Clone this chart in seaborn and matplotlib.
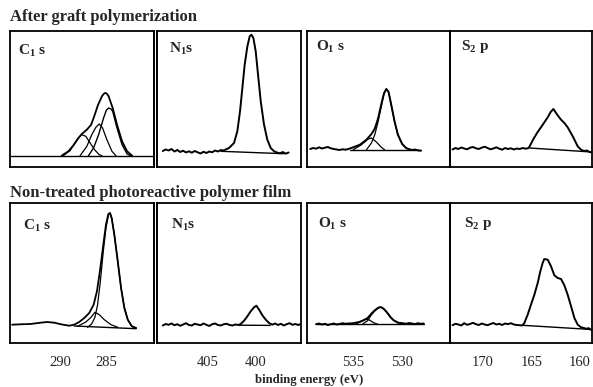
import matplotlib
matplotlib.use("Agg")
import matplotlib.pyplot as plt
import seaborn as sns
import pandas as pd

sns.set_style("white")
plt.rcParams["font.family"] = ["Liberation Serif", "DejaVu Serif"]
plt.rcParams["mathtext.fontset"] = "custom"
plt.rcParams["mathtext.rm"] = "Liberation Serif:bold"
plt.rcParams["mathtext.it"] = "Liberation Serif:bold"
plt.rcParams["mathtext.bf"] = "Liberation Serif:bold"
plt.rcParams["mathtext.default"] = "rm"

# ---------------- data (binding energy in eV, intensity in arbitrary units) -------------
row_titles = ["After graft polymerization", "Non-treated photoreactive polymer film"]
panel_labels = [r"C$_1$ s", r"N$_1$s", r"O$_1$ s", r"S$_2$ p"]
x_label = "binding energy (eV)"
tick_values = [[290, 285], [405, 400], [535, 530], [170, 165, 160]]

# ---- top row: after graft polymerization ----
c1_top_env_x = [289.82, 289.09, 288.54, 288.07, 287.63, 287.08, 286.61, 286.24, 285.88, 285.44, 285.2,
                285.07, 284.9, 284.71, 284.27, 283.8, 283.25, 282.7, 282.15]
c1_top_env_y = [11.8, 16.2, 22.2, 28.5, 33.5, 37.8, 42.8, 52.2, 62.2, 71.2, 74.0,
                74.5, 73.8, 71.2, 59.5, 42.8, 26.2, 16.2, 11.8]
c1_top_a_x = [289.64, 288.91, 288.36, 287.92, 287.63, 287.19, 286.72, 286.24, 285.73, 285.44]
c1_top_a_y = [11.8, 16.8, 24.5, 30.5, 32.8, 31.2, 24.5, 17.8, 12.8, 11.8]
c1_top_b_x = [287.81, 287.08, 286.54, 286.1, 285.73, 285.37, 284.9, 284.35, 283.91]
c1_top_b_y = [11.8, 21.2, 32.8, 40.2, 43.5, 39.5, 27.8, 16.2, 11.8]
c1_top_c_x = [286.9, 286.35, 285.8, 285.26, 284.95, 284.71, 284.45, 284.27, 283.8, 283.25, 282.7, 282.33]
c1_top_c_y = [11.8, 19.5, 32.8, 49.5, 57.5, 59.5, 58.5, 56.2, 39.5, 22.8, 13.5, 11.8]
c1_top_bg_x = [295.3, 279.8]
c1_top_bg_y = [11.8, 11.8]

n1_top_x = [409.6, 409.3, 409.0, 408.7, 408.4, 408.1, 407.8, 407.5, 407.2, 406.9, 406.6, 406.3,
            406.0, 405.7, 405.4, 405.1, 404.8, 404.5, 404.2, 403.9, 403.6, 403.3, 403.0, 402.76,
            402.24, 401.9, 401.62, 401.38, 401.14, 400.86, 400.62, 400.45, 400.24, 400.0, 399.76,
            399.48, 399.14, 398.8, 398.45, 398.1, 397.8, 397.5, 397.2, 396.9, 396.6]
n1_top_y = [16.5, 18.0, 17.0, 18.5, 16.0, 17.5, 15.5, 16.8, 15.0, 16.2, 14.8, 16.5,
            15.2, 14.0, 15.8, 14.5, 16.0, 15.2, 17.0, 16.0, 17.5, 17.0, 18.5, 19.5,
            24.5, 36.2, 56.2, 79.5, 102.8, 121.2, 131.2, 132.8, 129.5, 116.2, 92.8,
            66.2, 42.8, 27.8, 19.5, 16.2, 15.0, 14.2, 15.5, 13.8, 15.0]
n1_top_bg_x = [403.6, 397.1]
n1_top_bg_y = [16.2, 13.8]

o1_top_x = [539.4, 539.1, 538.8, 538.5, 538.2, 537.9, 537.6, 537.3, 537.0, 536.7, 536.4, 536.1,
            535.8, 535.5, 535.0, 534.32, 533.65, 533.14, 532.8, 532.47, 532.13, 531.86, 531.62,
            531.39, 531.12, 530.78, 530.44, 530.0, 529.6, 529.3, 529.0, 528.7, 528.4, 528.1]
o1_top_y = [18.5, 19.5, 18.8, 20.2, 19.0, 19.8, 20.5, 19.2, 18.5, 18.0, 17.5, 18.2,
            17.8, 18.5, 20.2, 22.8, 27.8, 33.5, 38.8, 48.8, 63.5, 74.2, 78.5,
            75.5, 62.8, 46.2, 32.8, 23.5, 19.5, 18.2, 17.5, 18.0, 17.2, 16.8]
o1_top_main_x = [533.65, 533.14, 532.8, 532.47, 532.13, 531.86, 531.62, 531.39, 531.12, 530.78,
                 530.44, 530.0, 529.6, 529.1]
o1_top_main_y = [17.8, 24.5, 32.8, 45.5, 61.2, 73.5, 78.5, 75.5, 62.8, 46.2, 32.8, 23.5, 19.5, 17.8]
o1_top_small_x = [535.0, 534.16, 533.48, 533.14, 532.64, 532.13, 531.79]
o1_top_small_y = [17.8, 22.8, 28.5, 29.5, 25.5, 20.2, 17.8]
o1_top_bg_x = [535.3, 528.1]
o1_top_bg_y = [17.8, 17.8]

s2_top_x = [173.1, 172.8, 172.5, 172.2, 171.9, 171.6, 171.3, 171.0, 170.7, 170.4, 170.1, 169.8,
            169.5, 169.2, 168.9, 168.6, 168.3, 168.0, 167.7, 167.4, 167.1, 166.8, 166.5, 166.2,
            165.9, 165.6, 165.35, 165.17, 164.83, 164.42, 163.83, 163.32, 163.02, 162.74, 162.3,
            161.95, 161.61, 161.27, 160.75, 160.24, 159.9, 159.6, 159.3, 159.0, 158.8]
s2_top_y = [18.0, 19.5, 18.5, 20.0, 19.0, 18.2, 19.8, 20.5, 19.2, 18.5, 19.8, 20.8,
            19.5, 18.2, 19.0, 20.2, 18.8, 17.8, 19.5, 18.5, 19.2, 18.0, 19.0, 18.5,
            19.5, 18.8, 19.2, 21.2, 27.8, 34.5, 42.8, 50.2, 55.5, 58.5, 52.2,
            47.8, 44.5, 40.2, 31.2, 21.2, 17.8, 16.5, 17.0, 15.5, 15.0]
s2_top_bg_x = [165.2, 158.8]
s2_top_bg_y = [19.5, 15.5]

# ---- bottom row: non-treated film ----
c1_bot_env_x = [295.2, 294.3, 293.2, 292.1, 291.4, 290.6, 289.9, 289.0, 288.45, 287.91, 287.36,
                286.82, 286.34, 285.98, 285.61, 285.29, 285.0, 284.74, 284.56, 284.38, 284.09,
                283.72, 283.36, 283.0, 282.63, 282.19, 281.72]
c1_bot_env_y = [18.3, 18.7, 19.0, 20.3, 21.0, 20.3, 18.7, 17.3, 18.3, 21.0, 25.0,
                30.0, 38.3, 51.7, 75.0, 98.3, 118.3, 129.0, 130.0, 125.0, 108.3,
                81.7, 55.0, 35.0, 23.3, 16.7, 15.0]
c1_bot_main_x = [287.0, 286.56, 286.2, 285.91, 285.61, 285.29, 285.0, 284.74, 284.56, 284.38,
                 284.09, 283.72, 283.36, 283.0, 282.63, 282.19, 281.72]
c1_bot_main_y = [15.7, 19.0, 25.7, 38.3, 61.7, 91.7, 115.0, 127.7, 130.0, 125.0,
                 108.3, 81.7, 55.0, 35.0, 23.3, 16.7, 15.0]
c1_bot_small_x = [288.09, 287.18, 286.63, 286.2, 285.72, 285.18, 284.45, 283.72]
c1_bot_small_y = [16.7, 21.0, 25.7, 30.7, 28.3, 23.3, 18.3, 15.7]
c1_bot_bg_x = [288.45, 281.72]
c1_bot_bg_y = [17.0, 14.3]

n1_bot_x = [409.6, 409.3, 409.0, 408.7, 408.4, 408.1, 407.8, 407.5, 407.2, 406.9, 406.6, 406.3,
            406.0, 405.7, 405.4, 405.1, 404.8, 404.5, 404.2, 403.9, 403.6, 403.3, 403.0, 402.7,
            402.4, 402.1, 401.8, 401.55, 401.2, 400.86, 400.52, 400.17, 399.93, 399.65, 399.31,
            398.96, 398.62, 398.27, 398.0, 397.7, 397.4, 397.1, 396.8, 396.5, 396.2, 395.9,
            395.6, 395.4]
n1_bot_y = [17.5, 19.0, 18.2, 19.5, 17.8, 18.8, 17.2, 18.5, 19.8, 18.0, 17.5, 19.2,
            18.5, 17.8, 19.5, 18.2, 17.0, 18.8, 19.5, 18.0, 17.5, 18.8, 19.2, 18.0,
            17.5, 18.5, 18.0, 19.0, 22.3, 26.7, 31.7, 35.7, 37.3, 33.3, 27.7,
            23.3, 20.0, 18.3, 19.5, 18.0, 19.2, 17.5, 18.8, 19.8, 18.2, 19.0,
            18.0, 18.8]
n1_bot_bg_x = [401.7, 398.5]
n1_bot_bg_y = [17.8, 17.6]

o1_bot_x = [538.8, 538.5, 538.2, 537.9, 537.6, 537.3, 537.0, 536.7, 536.4, 536.1, 535.8, 535.5,
            535.07, 534.38, 533.87, 533.53, 533.18, 532.84, 532.49, 532.21, 531.9, 531.56,
            531.21, 530.87, 530.42, 529.9, 529.6, 529.3, 529.0, 528.7, 528.4, 528.1, 527.8]
o1_bot_y = [18.8, 19.5, 18.5, 19.2, 18.0, 18.8, 19.5, 18.5, 19.0, 19.8, 19.2, 19.5,
            19.7, 21.0, 23.0, 25.0, 29.0, 32.3, 35.0, 36.0, 34.3, 30.7,
            26.0, 22.7, 20.3, 19.7, 19.2, 20.0, 19.5, 18.8, 19.8, 19.2, 19.5]
o1_bot_main_x = [534.04, 533.53, 533.18, 532.84, 532.49, 532.21, 531.9, 531.56, 531.21, 530.87,
                 530.42, 529.9]
o1_bot_main_y = [19.0, 22.3, 27.7, 31.7, 34.7, 36.0, 34.3, 30.7, 26.0, 22.7, 20.3, 19.5]
o1_bot_small_x = [534.73, 534.21, 533.76, 533.35, 532.93, 532.49]
o1_bot_small_y = [19.0, 21.7, 24.0, 23.0, 20.3, 18.7]
o1_bot_bg_x = [538.8, 527.8]
o1_bot_bg_y = [19.0, 19.0]

s2_bot_x = [173.1, 172.8, 172.5, 172.2, 171.9, 171.6, 171.3, 171.0, 170.7, 170.4, 170.1, 169.8,
            169.5, 169.2, 168.9, 168.6, 168.3, 168.0, 167.7, 167.4, 167.1, 166.8, 166.5, 166.2,
            165.95, 165.72, 165.38, 165.04, 164.69, 164.35, 164.08, 163.84, 163.67, 163.32,
            162.98, 162.64, 162.29, 161.95, 161.61, 161.27, 160.92, 160.58, 160.24, 159.9,
            159.6, 159.38, 159.1, 158.9]
s2_bot_y = [17.8, 19.2, 18.5, 17.5, 19.8, 18.2, 19.0, 20.2, 18.8, 18.0, 19.5, 18.5,
            17.8, 19.0, 20.0, 18.5, 19.2, 18.0, 19.5, 18.8, 19.8, 18.5, 18.0, 17.8,
            17.5, 20.0, 28.3, 38.3, 48.3, 60.0, 71.7, 80.0, 84.0, 83.3,
            76.7, 67.7, 65.0, 64.0, 57.7, 48.3, 36.7, 25.0, 18.3, 15.7,
            15.0, 14.3, 14.8, 13.3]
s2_bot_bg_x = [165.9, 158.8]
s2_bot_bg_y = [17.7, 13.5]

# ---------------- layout (pixels of a 593x387 canvas) ----------------
W, H = 593.0, 387.0
col_px = [(10, 154.0), (157, 301), (307, 450), (450, 592)]
row_px = [(31, 167.5), (203, 343)]
xlims = [(295.43, 279.78), (410.2, 395.32), (539.73, 525.11), (173.36, 158.77)]
label_pos = [[(0.055, 0.853), (0.083, 0.868), (0.063, 0.883), (0.077, 0.89)],
             [(0.09, 0.839), (0.097, 0.843), (0.077, 0.85), (0.099, 0.85)]]

# curves per panel: (x, y, linewidth)
curves = [
    [
        [(c1_top_bg_x, c1_top_bg_y, 1.0), (c1_top_a_x, c1_top_a_y, 0.9), (c1_top_b_x, c1_top_b_y, 0.9),
         (c1_top_c_x, c1_top_c_y, 1.0), (c1_top_env_x, c1_top_env_y, 1.3)],
        [(n1_top_bg_x, n1_top_bg_y, 1.0), (n1_top_x, n1_top_y, 1.4)],
        [(o1_top_bg_x, o1_top_bg_y, 1.0), (o1_top_small_x, o1_top_small_y, 0.9),
         (o1_top_main_x, o1_top_main_y, 0.9), (o1_top_x, o1_top_y, 1.4)],
        [(s2_top_bg_x, s2_top_bg_y, 1.0), (s2_top_x, s2_top_y, 1.4)],
    ],
    [
        [(c1_bot_bg_x, c1_bot_bg_y, 1.0), (c1_bot_small_x, c1_bot_small_y, 0.9),
         (c1_bot_main_x, c1_bot_main_y, 0.9), (c1_bot_env_x, c1_bot_env_y, 1.3)],
        [(n1_bot_bg_x, n1_bot_bg_y, 1.0), (n1_bot_x, n1_bot_y, 1.4)],
        [(o1_bot_bg_x, o1_bot_bg_y, 1.0), (o1_bot_small_x, o1_bot_small_y, 0.9),
         (o1_bot_main_x, o1_bot_main_y, 0.9), (o1_bot_x, o1_bot_y, 1.4)],
        [(s2_bot_bg_x, s2_bot_bg_y, 1.0), (s2_bot_x, s2_bot_y, 1.4)],
    ],
]

fig = plt.figure(figsize=(W / 100, H / 100), dpi=100)
fig.patch.set_facecolor("white")

for r, (ytop, ybot) in enumerate(row_px):
    for c, (xl, xr) in enumerate(col_px):
        ax = fig.add_axes([xl / W, 1 - ybot / H, (xr - xl) / W, (ybot - ytop) / H])
        ax.set_facecolor("none")
        for (xs, ys, lw) in curves[r][c]:
            df = pd.DataFrame({"eV": xs, "I": ys})
            sns.lineplot(data=df, x="eV", y="I", ax=ax, color="black", linewidth=lw,
                         estimator=None, sort=True, legend=False)
        ax.set_xlim(*xlims[c])
        ax.set_ylim(0, ybot - ytop)
        ax.set_xlabel("")
        ax.set_ylabel("")
        ax.set_yticks([])
        ax.set_xticks(tick_values[c])
        ax.tick_params(axis="x", direction="in", length=4, width=1.2, color="black",
                       labelsize=10.5, pad=9, labelbottom=(r == 1))
        for side, sp in ax.spines.items():
            sp.set_visible(True)
            sp.set_color("black")
            sp.set_linewidth(1.3)
        if c == 0:
            ax.spines["right"].set_linewidth(1.4)
        if c == 1:
            ax.spines["left"].set_linewidth(1.4)
        lx, ly = label_pos[r][c]
        ax.text(lx, ly, panel_labels[c], transform=ax.transAxes, ha="left", va="center",
                fontsize=11, fontweight="bold")

fig.text(10 / W, 1 - 17 / H, row_titles[0], ha="left", va="center", fontsize=12, fontweight="bold")
fig.text(10 / W, 1 - 193 / H, row_titles[1], ha="left", va="center", fontsize=12, fontweight="bold")
fig.text(309 / W, 1 - 380 / H, x_label, ha="center", va="center", fontsize=9.2, fontweight="bold")

fig.savefig("out.png", dpi=100, facecolor="white")
